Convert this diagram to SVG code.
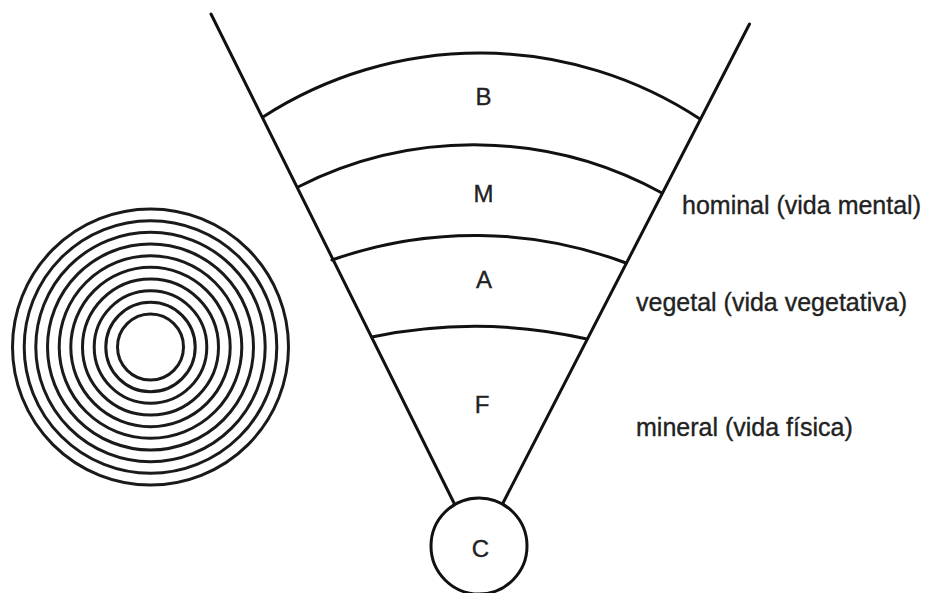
<svg xmlns="http://www.w3.org/2000/svg" width="929" height="593" viewBox="0 0 929 593">
<style>
.ln{fill:none;stroke:#111;stroke-width:3;stroke-linecap:round}
.ring{fill:none;stroke:#1a1a1a;stroke-width:3}
.lt{font-family:"Liberation Sans",Arial,sans-serif;font-size:24px;fill:#222;stroke:#222;stroke-width:0.35;text-anchor:middle}
.lb{font-family:"Liberation Sans",Arial,sans-serif;font-size:25px;fill:#222;stroke:#222;stroke-width:0.35}
</style>
<rect width="929" height="593" fill="#fff"/>
<g id="rings">
<circle class="ring" cx="150.5" cy="347" r="33"/>
<circle class="ring" cx="150.5" cy="347" r="44.7"/>
<circle class="ring" cx="150.5" cy="347" r="56.3"/>
<circle class="ring" cx="150.5" cy="347" r="68"/>
<circle class="ring" cx="150.5" cy="347" r="79.7"/>
<circle class="ring" cx="150.5" cy="347" r="91.3"/>
<circle class="ring" cx="150.5" cy="347" r="103"/>
<circle class="ring" cx="150.5" cy="347" r="114.7"/>
<circle class="ring" cx="150.5" cy="347" r="126.3"/>
<circle class="ring" cx="150.5" cy="347" r="138"/>
</g>
<g id="connectors">
<line class="ln" x1="211" y1="14" x2="454" y2="503"/>
<line class="ln" x1="749.5" y1="24" x2="503" y2="503"/>
</g>
<g id="band-B">
<path class="ln" d="M263,117 A400,400 0 0 1 700,119"/>
<text class="lt" x="483.5" y="105">B</text>
</g>
<g id="band-M">
<path class="ln" d="M298,187 A390,390 0 0 1 662,193"/>
<text class="lt" x="483.5" y="201.5">M</text>
</g>
<g id="band-A">
<path class="ln" d="M332,260 A428,428 0 0 1 626,263"/>
<text class="lt" x="484" y="287.5">A</text>
</g>
<g id="band-F">
<path class="ln" d="M372,337 A508,508 0 0 1 587,339"/>
<text class="lt" x="482" y="413">F</text>
</g>
<g id="node-C">
<circle class="ln" cx="479" cy="546" r="48" fill="#fff"/>
<text class="lt" x="480.5" y="556.5">C</text>
</g>
<g id="labels">
<text class="lb" x="682" y="214">hominal (vida mental)</text>
<text class="lb" x="636" y="311">vegetal (vida vegetativa)</text>
<text class="lb" x="636" y="436">mineral (vida física)</text>
</g>
</svg>
